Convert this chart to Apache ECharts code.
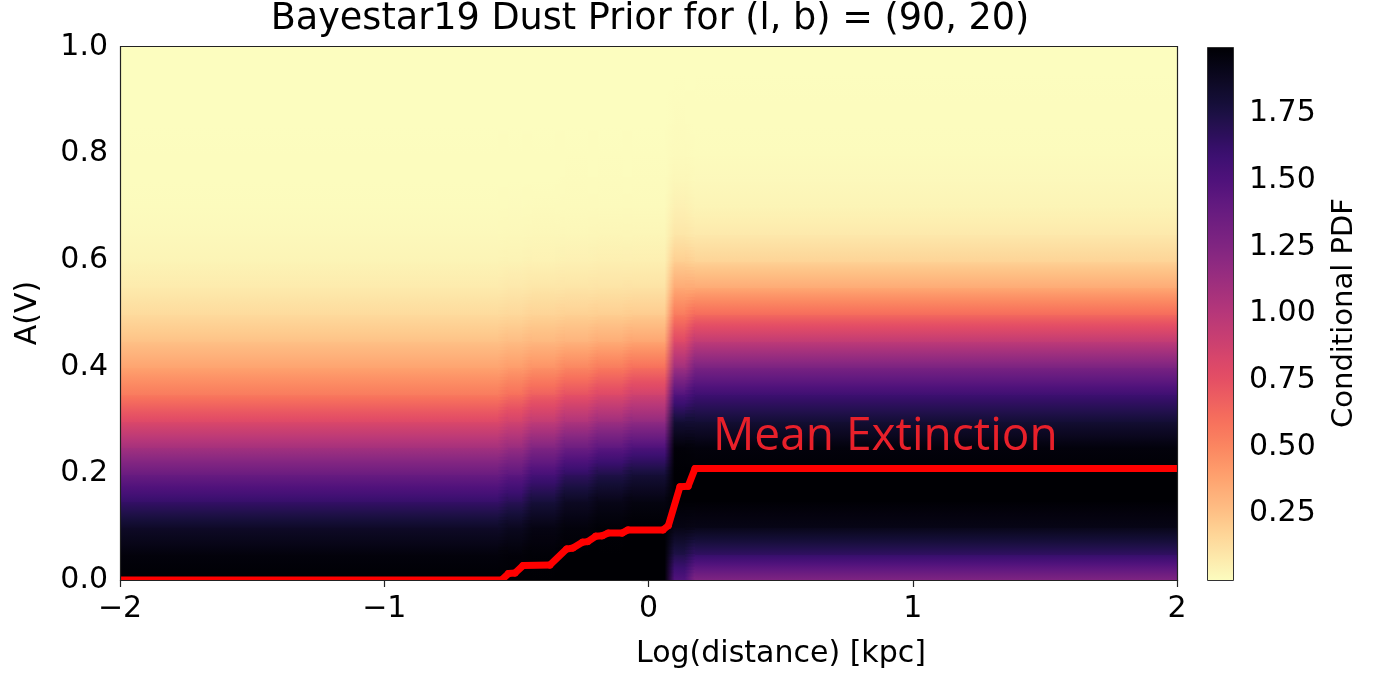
<!DOCTYPE html>
<html>
<head>
<meta charset="utf-8">
<title>Bayestar19 Dust Prior</title>
<script src="https://cdn.jsdelivr.net/npm/echarts@6/dist/echarts.min.js"></script>
<style>
  html, body { margin: 0; padding: 0; background: #ffffff; }
  #chart { width: 1379px; height: 677px; }
</style>
</head>
<body>
<div id="chart"></div>
<script>
// ---- Data -------------------------------------------------------------

// A(V) grid rows (mag) at which the conditional PDF is tabulated
const avRows = [0.00, 0.05, 0.10, 0.15, 0.20, 0.25, 0.30, 0.35, 0.40, 0.45, 0.50,
                0.55, 0.60, 0.65, 0.70, 0.75, 0.80, 0.85, 0.90, 0.95, 1.00];

// Distance bands, edges in log10(distance / kpc)
const bandEdges = [-2.0, -0.55, -0.46, -0.335, -0.21, -0.08, 0.08, 0.157, 2.0];

// Conditional PDF of A(V) in each distance band (one value per A(V) row)
const pdfBand0 = [2.00, 1.97, 1.85, 1.62, 1.37, 1.08, 0.80, 0.55, 0.38, 0.25, 0.15, 0.08, 0.040, 0.020, 0.010, 0.005, 0.003, 0.002, 0.001, 0.000, 0.000];
const pdfBand1 = [2.00, 1.98, 1.89, 1.68, 1.43, 1.14, 0.86, 0.60, 0.41, 0.27, 0.16, 0.09, 0.045, 0.022, 0.011, 0.005, 0.003, 0.002, 0.001, 0.000, 0.000];
const pdfBand2 = [2.00, 1.99, 1.94, 1.78, 1.54, 1.25, 0.94, 0.67, 0.45, 0.29, 0.18, 0.10, 0.050, 0.025, 0.012, 0.006, 0.003, 0.002, 0.001, 0.000, 0.000];
const pdfBand3 = [2.00, 2.00, 1.97, 1.87, 1.65, 1.35, 1.03, 0.74, 0.50, 0.31, 0.19, 0.105, 0.055, 0.028, 0.014, 0.007, 0.004, 0.002, 0.001, 0.000, 0.000];
const pdfBand4 = [2.00, 2.00, 1.99, 1.92, 1.73, 1.43, 1.11, 0.80, 0.55, 0.34, 0.20, 0.11, 0.060, 0.030, 0.015, 0.007, 0.004, 0.002, 0.001, 0.000, 0.000];
const pdfBand5 = [2.00, 2.00, 2.00, 1.95, 1.79, 1.50, 1.17, 0.87, 0.60, 0.37, 0.21, 0.115, 0.060, 0.030, 0.015, 0.007, 0.004, 0.002, 0.001, 0.000, 0.000];
const pdfBand6 = [1.48, 1.74, 1.94, 2.00, 2.00, 1.98, 1.80, 1.48, 1.10, 0.80, 0.55, 0.35, 0.200, 0.100, 0.055, 0.028, 0.014, 0.007, 0.003, 0.001, 0.000];
const pdfBand7 = [1.25, 1.65, 1.93, 2.00, 2.00, 1.97, 1.80, 1.58, 1.28, 0.95, 0.62, 0.35, 0.180, 0.085, 0.040, 0.020, 0.010, 0.005, 0.003, 0.001, 0.000];

// Mean extinction along the line of sight
const meanLogDist = [-2.0, -0.556, -0.53, -0.505, -0.475, -0.373, -0.31, -0.286, -0.25, -0.23,
                     -0.20, -0.175, -0.153, -0.10, -0.078, 0.055, 0.075, 0.119, 0.15, 0.176, 2.0];
const meanAV      = [0.000, 0.000, 0.012, 0.013, 0.027, 0.028, 0.058, 0.060, 0.071, 0.072,
                     0.082, 0.083, 0.088, 0.088, 0.094, 0.094, 0.102, 0.175, 0.176, 0.209, 0.209];

// Axis ranges and ticks
const xRange = [-2, 2];
const yRange = [0, 1];
const pdfRange = [0, 2];
const colorbarTicks = [0.25, 0.50, 0.75, 1.00, 1.25, 1.50, 1.75];

// ---- Colour map (magma, reversed: high density is dark) ----------------
const magmaStops = [
  [0.000, '#000004'], [0.100, '#140e36'], [0.125, '#1c1044'], [0.200, '#3b0f70'],
  [0.250, '#4f127b'], [0.300, '#641a80'], [0.375, '#812581'], [0.400, '#8c2981'],
  [0.500, '#b73779'], [0.600, '#de4968'], [0.625, '#e55064'], [0.700, '#f7705c'],
  [0.750, '#fb8761'], [0.800, '#fe9f6d'], [0.875, '#fec287'], [0.900, '#fecf92'],
  [1.000, '#fcfdbf']
];
const magmaRgb = magmaStops.map(([t, h]) => [t, parseInt(h.slice(1, 3), 16), parseInt(h.slice(3, 5), 16), parseInt(h.slice(5, 7), 16)]);

function magma(t) {
  t = Math.max(0, Math.min(1, t));
  for (let i = 1; i < magmaRgb.length; i++) {
    if (t <= magmaRgb[i][0]) {
      const a = magmaRgb[i - 1], b = magmaRgb[i];
      const f = (t - a[0]) / (b[0] - a[0]);
      const r = Math.round(a[1] + (b[1] - a[1]) * f);
      const g = Math.round(a[2] + (b[2] - a[2]) * f);
      const bl = Math.round(a[3] + (b[3] - a[3]) * f);
      return 'rgb(' + r + ',' + g + ',' + bl + ')';
    }
  }
  return '#fcfdbf';
}
function pdfColor(v) {
  return magma(1 - (v - pdfRange[0]) / (pdfRange[1] - pdfRange[0]));
}

// ---- Series data ---------------------------------------------------------
const bandProfiles = [pdfBand0, pdfBand1, pdfBand2, pdfBand3, pdfBand4, pdfBand5, pdfBand6, pdfBand7];

// Heatmap cells: [x0, x1, a0, a1, pdf(a0), pdf(a1)]
const heatCells = [];
bandProfiles.forEach((prof, b) => {
  for (let r = 0; r < avRows.length - 1; r++) {
    heatCells.push([bandEdges[b], bandEdges[b + 1], avRows[r], avRows[r + 1], prof[r], prof[r + 1]]);
  }
});

// Soft seams between neighbouring bands: [xEdge, a0, a1, left(a0), left(a1), right(a0), right(a1)]
const seamCells = [];
for (let e = 1; e < bandProfiles.length; e++) {
  const L = bandProfiles[e - 1], R = bandProfiles[e];
  for (let r = 0; r < avRows.length - 1; r++) {
    seamCells.push([bandEdges[e], avRows[r], avRows[r + 1], L[r], L[r + 1], R[r], R[r + 1]]);
  }
}

// Mean-extinction polyline as segments: [x0, a0, x1, a1]
const meanSegments = [];
for (let i = 0; i < meanLogDist.length - 1; i++) {
  meanSegments.push([meanLogDist[i], meanAV[i], meanLogDist[i + 1], meanAV[i + 1]]);
}

// ---- Renderers -------------------------------------------------------------
function verticalRamp(vTop, vBottom) {
  const n = Math.max(2, Math.ceil(Math.abs(vBottom - vTop) * 24) + 1);
  const stops = [];
  for (let k = 0; k < n; k++) {
    const f = k / (n - 1);
    stops.push({ offset: f, color: pdfColor(vTop + (vBottom - vTop) * f) });
  }
  return new echarts.graphic.LinearGradient(0, 0, 0, 1, stops);
}

function renderCell(params, api) {
  const tl = api.coord([api.value(0), api.value(3)]);
  const br = api.coord([api.value(1), api.value(2)]);
  const left = Math.floor(tl[0]), top = Math.floor(tl[1]);
  return {
    type: 'rect',
    shape: { x: left, y: top, width: Math.ceil(br[0]) - left + 1, height: Math.ceil(br[1]) - top + 1 },
    style: { fill: verticalRamp(api.value(5), api.value(4)) }
  };
}

const SEAM_HALF = 5;   // half-width of the blended seam, px
const SEAM_SUB = 8;    // vertical subdivisions per row
function renderSeam(params, api) {
  const xe = api.value(0);
  const top = api.coord([xe, api.value(2)]);
  const bot = api.coord([xe, api.value(1)]);
  const l0 = api.value(3), l1 = api.value(4), r0 = api.value(5), r1 = api.value(6);
  const h = (bot[1] - top[1]) / SEAM_SUB;
  const children = [];
  for (let k = 0; k < SEAM_SUB; k++) {
    const f = (k + 0.5) / SEAM_SUB;
    const vl = l1 + (l0 - l1) * f;
    const vr = r1 + (r0 - r1) * f;
    children.push({
      type: 'rect',
      shape: { x: top[0] - SEAM_HALF, y: top[1] + k * h, width: 2 * SEAM_HALF, height: h + 0.7 },
      style: {
        fill: new echarts.graphic.LinearGradient(0, 0, 1, 0, [
          { offset: 0, color: pdfColor(vl) },
          { offset: 1, color: pdfColor(vr) }
        ])
      }
    });
  }
  return { type: 'group', children: children };
}

function renderSegment(params, api) {
  const p0 = api.coord([api.value(0), api.value(1)]);
  const p1 = api.coord([api.value(2), api.value(3)]);
  return {
    type: 'line',
    shape: { x1: p0[0], y1: p0[1], x2: p1[0], y2: p1[1] },
    style: { stroke: '#ff0000', lineWidth: 7, lineCap: 'round' }
  };
}

function renderColorbar(params, api) {
  const tl = api.coord([api.value(0), api.value(3)]);
  const br = api.coord([api.value(1), api.value(2)]);
  return {
    type: 'rect',
    shape: { x: Math.round(tl[0]) + 0.5, y: Math.round(tl[1]) + 0.5, width: Math.round(br[0] - tl[0]), height: Math.round(br[1] - tl[1]) },
    style: { fill: verticalRamp(api.value(5), api.value(4)), stroke: '#333333', lineWidth: 1 }
  };
}

function renderFrame(params, api) {
  const tl = api.coord([api.value(0), api.value(3)]);
  const br = api.coord([api.value(1), api.value(2)]);
  return {
    type: 'rect',
    shape: { x: Math.round(tl[0]) + 0.5, y: Math.round(tl[1]) - 0.5, width: Math.round(br[0] - tl[0]), height: Math.round(br[1] - tl[1]) + 1 },
    style: { fill: null, stroke: '#222222', lineWidth: 1.2 }
  };
}

// ---- Chart ---------------------------------------------------------------
const FONT = 'DejaVu Sans';
const chart = echarts.init(document.getElementById('chart'), null, { renderer: 'canvas' });

const minusFmt = v => (v < 0 ? '\u2212' + Math.abs(v) : String(v));

chart.setOption({
  animation: false,
  backgroundColor: '#ffffff',
  grid: [
    { left: 120, top: 47, width: 1057, height: 533 },
    { left: 1207, top: 47, width: 26, height: 533 }
  ],
  xAxis: [
    {
      type: 'value', gridIndex: 0, min: xRange[0], max: xRange[1], interval: 1,
      axisLine: { show: false },
      axisTick: { show: true, inside: false, length: 7, lineStyle: { color: '#222', width: 1.2 } },
      axisLabel: { color: '#000', fontFamily: FONT, fontSize: 30, margin: 14, formatter: minusFmt },
      splitLine: { show: false }
    },
    { type: 'value', gridIndex: 1, min: 0, max: 1, show: false }
  ],
  yAxis: [
    {
      type: 'value', gridIndex: 0, min: yRange[0], max: yRange[1], interval: 0.2,
      axisLine: { show: false },
      axisTick: { show: true, inside: false, length: 7, lineStyle: { color: '#222', width: 1.2 } },
      axisLabel: { color: '#000', fontFamily: FONT, fontSize: 30, margin: 12, formatter: v => v.toFixed(1) },
      splitLine: { show: false }
    },
    {
      type: 'value', gridIndex: 1, position: 'right', min: pdfRange[0], max: pdfRange[1], interval: 0.25,
      axisLine: { show: false },
      axisTick: { show: true, inside: false, length: 7, customValues: colorbarTicks, lineStyle: { color: '#222', width: 1.2 } },
      axisLabel: { color: '#000', fontFamily: FONT, fontSize: 30, margin: 16, customValues: colorbarTicks, formatter: v => v.toFixed(2) },
      splitLine: { show: false }
    }
  ],
  series: [
    {
      name: 'Conditional PDF', type: 'custom', xAxisIndex: 0, yAxisIndex: 0,
      renderItem: renderCell, data: heatCells, clip: true, z: 1, silent: true
    },
    {
      name: 'band seams', type: 'custom', xAxisIndex: 0, yAxisIndex: 0,
      renderItem: renderSeam, data: seamCells, clip: true, z: 2, silent: true
    },
    {
      name: 'Mean Extinction', type: 'custom', xAxisIndex: 0, yAxisIndex: 0,
      renderItem: renderSegment, data: meanSegments, clip: true, z: 3, silent: true
    },
    {
      name: 'frame', type: 'custom', xAxisIndex: 0, yAxisIndex: 0,
      renderItem: renderFrame, data: [[xRange[0], xRange[1], yRange[0], yRange[1]]], clip: false, z: 5, silent: true
    },
    {
      name: 'colorbar', type: 'custom', xAxisIndex: 1, yAxisIndex: 1,
      renderItem: renderColorbar, data: [[0, 1, pdfRange[0], pdfRange[1], pdfRange[0], pdfRange[1]]], clip: false, z: 2, silent: true
    }
  ],
  graphic: [
    {
      type: 'text', x: 650, y: 19, z: 10,
      style: { text: 'Bayestar19 Dust Prior for (l, b) = (90, 20)', fill: '#000', font: '36.6px "DejaVu Sans"', align: 'center', verticalAlign: 'middle' }
    },
    {
      type: 'text', x: 781, y: 654, z: 10,
      style: { text: 'Log(distance) [kpc]', fill: '#000', font: '30px "DejaVu Sans"', align: 'center', verticalAlign: 'middle' }
    },
    {
      type: 'text', x: 28, y: 313, rotation: Math.PI / 2, z: 10,
      style: { text: 'A(V)', fill: '#000', font: '30px "DejaVu Sans"', align: 'center', verticalAlign: 'middle' }
    },
    {
      type: 'text', x: 1344, y: 313, rotation: Math.PI / 2, z: 10,
      style: { text: 'Conditional PDF', fill: '#000', font: '29px "DejaVu Sans"', align: 'center', verticalAlign: 'middle' }
    },
    {
      type: 'text', x: 713, y: 437, z: 10,
      style: { text: 'Mean Extinction', fill: '#e8202a', font: '46px "Open Sans"', align: 'left', verticalAlign: 'middle' }
    }
  ]
});
</script>
</body>
</html>
